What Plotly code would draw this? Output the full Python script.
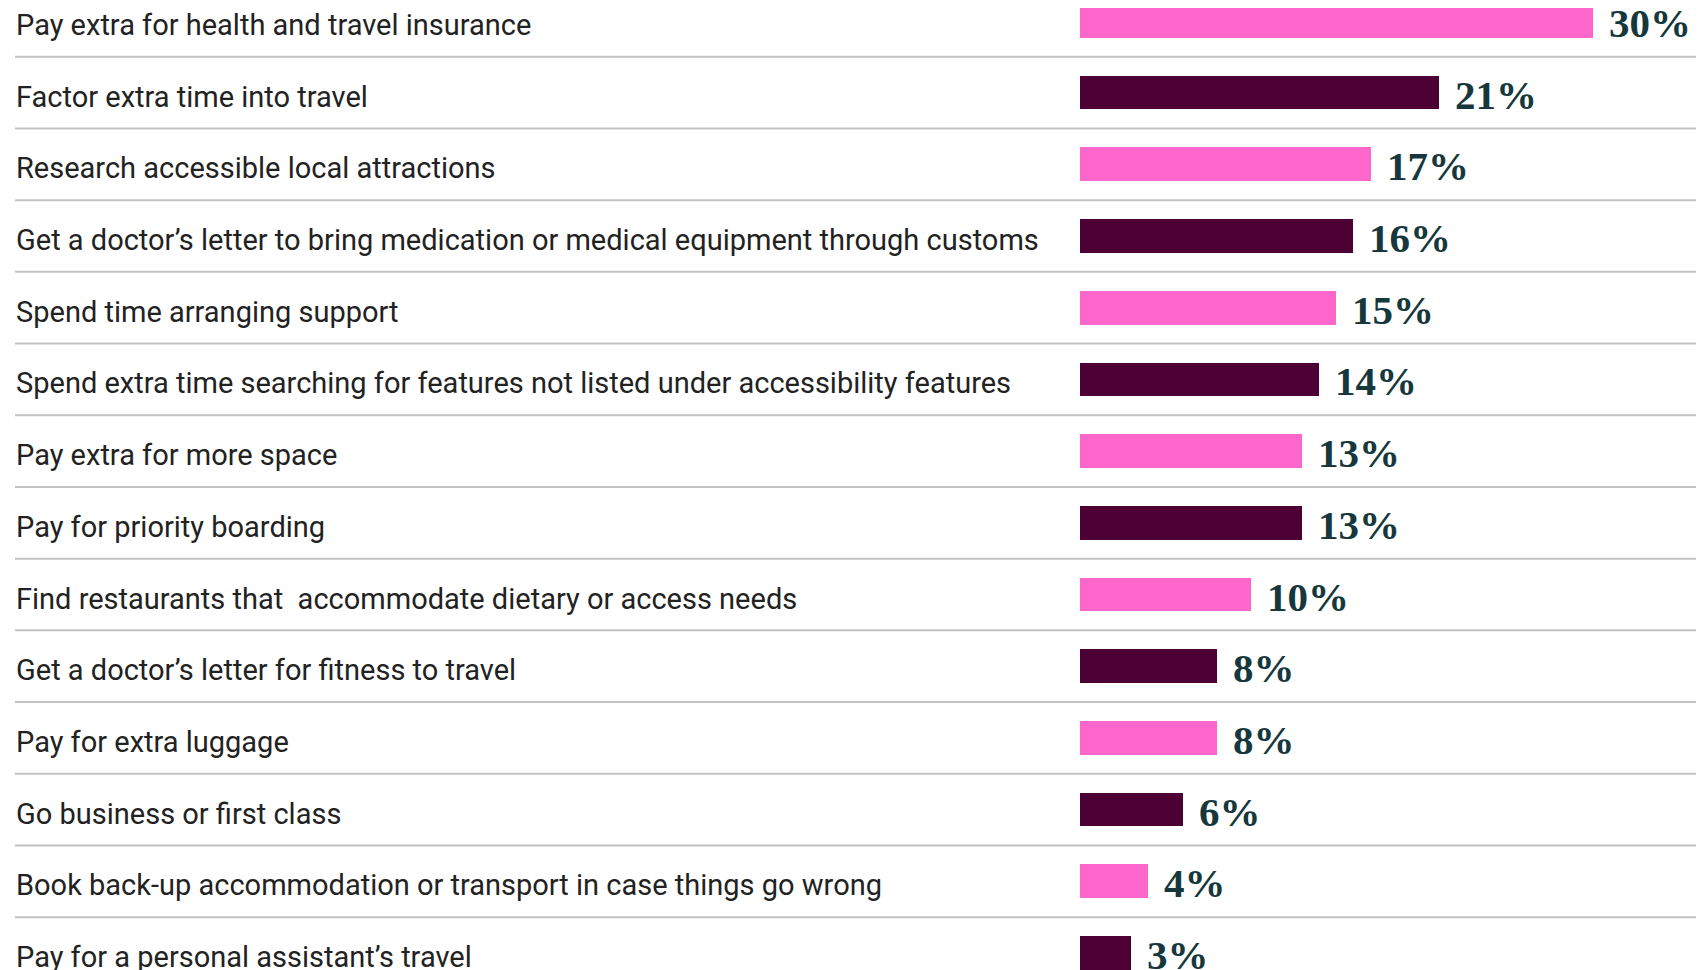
import plotly.graph_objects as go

categories = [
    "Pay extra for health and travel insurance",
    "Factor extra time into travel",
    "Research accessible local attractions",
    "Get a doctor’s letter to bring medication or medical equipment through customs",
    "Spend time arranging support",
    "Spend extra time searching for features not listed under accessibility features",
    "Pay extra for more space",
    "Pay for priority boarding",
    "Find restaurants that  accommodate dietary or access needs",
    "Get a doctor’s letter for fitness to travel",
    "Pay for extra luggage",
    "Go business or first class",
    "Book back-up accommodation or transport in case things go wrong",
    "Pay for a personal assistant’s travel",
]
values = [30, 21, 17, 16, 15, 14, 13, 13, 10, 8, 8, 6, 4, 3]
value_labels = ["30%", "21%", "17%", "16%", "15%", "14%", "13%", "13%", "10%", "8%", "8%", "6%", "4%", "3%"]

PINK = "#ff66cc"
PLUM = "#4d0033"
TEAL = "#16383d"

n = len(categories)
ypos = list(range(n))
colors = [PINK if i % 2 == 0 else PLUM for i in range(n)]

OFF = 8  # default body margin of the page
W, H = 1704 - OFF, 970 - OFF
pitch = 71.7
first_center = 20.9 - OFF
span = H / pitch
ytop = -first_center / pitch
yrange = [ytop + span, ytop]

x0_px = 1080 - OFF
px_per = 17.09
xmax = (W - x0_px) / px_per

fig = go.Figure()
fig.add_trace(go.Bar(
    x=values, y=ypos, orientation="h",
    marker=dict(color=colors, line=dict(width=0)),
    width=0.47, hoverinfo="skip",
))

annotations = []
for i, (c, v, lab) in enumerate(zip(categories, values, value_labels)):
    annotations.append(dict(
        x=(13.5 - OFF) / W, xref="paper", y=i, yref="y", text=c, showarrow=False,
        xanchor="left", yanchor="middle", yshift=-4,
        font=dict(family="Roboto", size=29, color="#222222"),
    ))
    annotations.append(dict(
        x=v, xref="x", y=i, yref="y", text=lab, showarrow=False,
        xanchor="left", yanchor="middle", xshift=14, yshift=-2,
        font=dict(family="Liberation Serif", size=41, color=TEAL, weight="bold"),
    ))

shapes = []
for i in range(n - 1):
    shapes.append(dict(
        type="line", xref="paper", yref="y",
        x0=(15 - OFF) / W, x1=(1701 - OFF) / W, y0=i + 0.5, y1=i + 0.5,
        line=dict(color="#c2c2c2", width=2),
    ))

fig.update_layout(
    width=W, height=H,
    margin=dict(l=0, r=0, t=0, b=0),
    paper_bgcolor="white", plot_bgcolor="white",
    showlegend=False,
    xaxis=dict(domain=[x0_px / W, 1], range=[0, xmax], visible=False, fixedrange=True),
    yaxis=dict(range=yrange, visible=False, fixedrange=True),
    annotations=annotations,
    shapes=shapes,
    bargap=0,
)

fig.write_html("out.html", config={"displayModeBar": False})
